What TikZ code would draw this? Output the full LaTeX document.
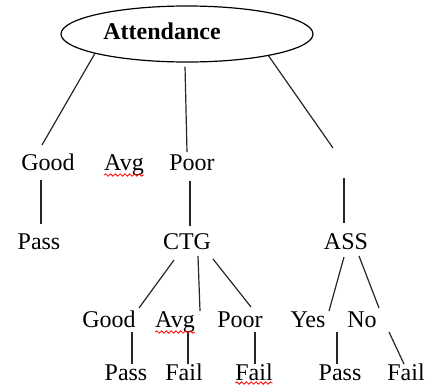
\documentclass[tikz,border=0pt]{standalone}
\usepackage{fontspec}
\setmainfont{Liberation Serif}
\usetikzlibrary{shapes.geometric, decorations.pathmorphing}

\tikzset{
  lbl/.style={anchor=base, inner sep=0pt, outer sep=0pt, text height=8pt, text depth=2.5pt, font=\fontsize{12}{14}\selectfont},
  branch/.style={line width=0.6pt, black!85},
  squig/.style={red, line width=0.4pt, decorate, decoration={snake, amplitude=0.6pt, segment length=2.4pt}}
}

\begin{document}
\begin{tikzpicture}[x=0.5pt, y=-0.5pt]
  \useasboundingbox (0,0) rectangle (427,386);
  % root
  \node[ellipse, draw, line width=0.6pt, minimum width=126pt, minimum height=28pt, inner sep=0pt,
        label={[xshift=-12.5pt, yshift=1.5pt, font=\fontsize{12}{14}\selectfont\bfseries]center:Attendance}] (att) at (187,34) {};
  % level 1
  \node[lbl] (good1) at (48,170) {Good};
  \node[lbl] (avg1) at (124,170) {Avg};
  \node[lbl] (poor1) at (192,170) {Poor};
  \coordinate (r1) at (333,148);
  \coordinate (r2) at (344,178);
  % level 2
  \node[lbl] (pass1) at (39,249) {Pass};
  \node[lbl] (ctg) at (187,249) {CTG};
  \node[lbl] (ass) at (346,249) {ASS};
  % level 3
  \node[lbl] (good2) at (109,327) {Good};
  \node[lbl] (avg2) at (175,327) {Avg};
  \node[lbl] (poor2) at (240,327) {Poor};
  \node[lbl] (yes) at (308,327) {Yes};
  \node[lbl] (no) at (362,327) {No};
  % level 4
  \node[lbl] (pass2) at (126,380) {Pass};
  \node[lbl] (fail1) at (184,380) {Fail};
  \node[lbl] (fail2) at (254,380) {Fail};
  \node[lbl] (pass3) at (340,380) {Pass};
  \node[lbl] (fail3) at (406,380) {Fail};

  % branches from the root
  \draw[branch] (att.192) -- ([xshift=-3pt, yshift=4.5pt]good1.north);
  \draw[branch] ([xshift=-1pt, yshift=-2pt]att.south) -- ([xshift=-2.5pt, yshift=1pt]poor1.north);
  \draw[branch] (att.345) -- (r1);
  % level 1 to level 2
  \draw[branch] ([xshift=-3.5pt, yshift=-2.5pt]good1.south) -- ([xshift=1pt, yshift=4.5pt]pass1.north);
  \draw[branch] ([xshift=-1pt, yshift=-3pt]poor1.south) -- ([xshift=1.5pt, yshift=3.5pt]ctg.north);
  \draw[branch] (r2) -- ([xshift=-1pt, yshift=5pt]ass.north);
  % CTG
  \draw[branch] ([xshift=-6.5pt, yshift=-3pt]ctg.south) -- ([xshift=15pt, yshift=1.5pt]good2.north);
  \draw[branch] ([xshift=5.5pt, yshift=-1pt]ctg.south) -- ([xshift=12.5pt]avg2.north);
  \draw[branch] ([xshift=13pt, yshift=-2.5pt]ctg.south) -- ([xshift=5.5pt, yshift=2pt]poor2.north);
  % ASS
  \draw[branch] ([xshift=-1pt, yshift=-1.5pt]ass.south) -- ([xshift=10.5pt]yes.north);
  \draw[branch] ([xshift=6.5pt, yshift=-1pt]ass.south) -- ([xshift=8.5pt, yshift=1.5pt]no.north);
  % leaves
  \draw[branch] ([xshift=11.5pt]good2.south) -- ([xshift=3pt]pass2.north);
  \draw[branch] ([xshift=6.5pt]avg2.south) -- ([xshift=2pt]fail1.north);
  \draw[branch] ([xshift=7.5pt]poor2.south) -- ([xshift=0.5pt]fail2.north);
  \draw[branch] ([xshift=14.5pt]yes.south) -- ([xshift=-1.5pt]pass3.north);
  \draw[branch] ([xshift=13.5pt]no.south) -- ([xshift=-1pt]fail3.north);

  % spell-check marks
  \draw[squig] ([yshift=-2.5pt]avg1.base west) -- ([yshift=-2.5pt]avg1.base east);
  \draw[squig] ([yshift=-2.5pt]avg2.base west) -- ([yshift=-2.5pt]avg2.base east);
  \draw[squig] ([yshift=-1.5pt]fail2.base west) -- ([yshift=-1.5pt]fail2.base east);
\end{tikzpicture}
\end{document}
